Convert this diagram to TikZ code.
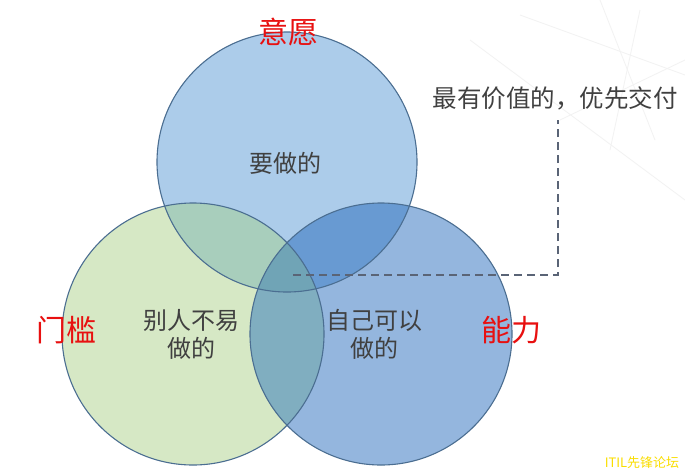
\documentclass[tikz,border=0pt]{standalone}
\usepackage{fontspec}
\newfontfamily\cjk{Noto Sans CJK SC}
\definecolor{cTop}{RGB}{172,204,234}
\definecolor{cLeft}{RGB}{214,232,197}
\definecolor{cRight}{RGB}{148,182,222}
\definecolor{cTL}{RGB}{168,206,188}
\definecolor{cTR}{RGB}{104,154,210}
\definecolor{cLR}{RGB}{128,174,192}
\definecolor{cAll}{RGB}{112,164,182}
\definecolor{cEdge}{RGB}{75,110,145}
\definecolor{cText}{RGB}{64,64,64}
\definecolor{cRed}{RGB}{232,16,16}
\definecolor{cDash}{RGB}{90,100,118}
\definecolor{cMark}{RGB}{250,222,0}
\begin{document}
\begin{tikzpicture}[x=1pt,y=-1pt,
  edge/.style={draw=cEdge,line width=1.1pt},
  redlabel/.style={font=\cjk\fontsize{30}{30}\selectfont,text=cRed,inner sep=0pt},
  bodytext/.style={font=\cjk\fontsize{24}{28}\selectfont,text=cText,inner sep=0pt,align=center},
  bgline/.style={draw=black!5,line width=0.8pt}]
\useasboundingbox (0,0) rectangle (685,475);
\fill[white] (0,0) rectangle (685,475);
% faint background lattice
\draw[bgline] (520,15) -- (685,75);
\draw[bgline] (600,0) -- (655,140);
\draw[bgline] (470,40) -- (685,200);
\draw[bgline] (560,120) -- (685,60);
\draw[bgline] (640,10) -- (610,150);
% circle centres
\coordinate (ct) at (287,162);
\coordinate (cl) at (193,334);
\coordinate (cr) at (381,334);
% single fills
\fill[cTop] (ct) circle (130);
\fill[cLeft] (cl) circle (131);
\fill[cRight] (cr) circle (131);
% pairwise overlaps
\begin{scope}\clip (ct) circle (130); \fill[cTL] (cl) circle (131); \end{scope}
\begin{scope}\clip (ct) circle (130); \fill[cTR] (cr) circle (131); \end{scope}
\begin{scope}\clip (cl) circle (131); \fill[cLR] (cr) circle (131); \end{scope}
\begin{scope}\clip (ct) circle (130); \clip (cl) circle (131); \fill[cAll] (cr) circle (131); \end{scope}
% outlines
\draw[edge] (ct) circle (130);
\draw[edge] (cl) circle (131);
\draw[edge] (cr) circle (131);
% labels
\node[redlabel] (will) at (288,32) {意愿};
\node[redlabel] (door) at (66,330) {门槛};
\node[redlabel] (able) at (511,330) {能力};
\node[bodytext] (want) at (285,163) {要做的};
\node[bodytext] (hard) at (191,334) {别人不易\\做的};
\node[bodytext] (can) at (374,334) {自己可以\\做的};
\node[bodytext,font=\cjk\fontsize{24.5}{28}\selectfont] (val) at (555,98) {最有价值的，优先交付};
% dashed connector
\coordinate (dA) at (293,275);
\coordinate (dB) at (558,120);
\draw[cDash,line width=1.2pt,dash pattern=on 8pt off 5pt] (dA) -| (dB);
% watermark
\node[font=\cjk\fontsize{13}{13}\selectfont,text=cMark,inner sep=0pt] (mark) at (642,463) {ITIL先锋论坛};
\end{tikzpicture}
\end{document}
